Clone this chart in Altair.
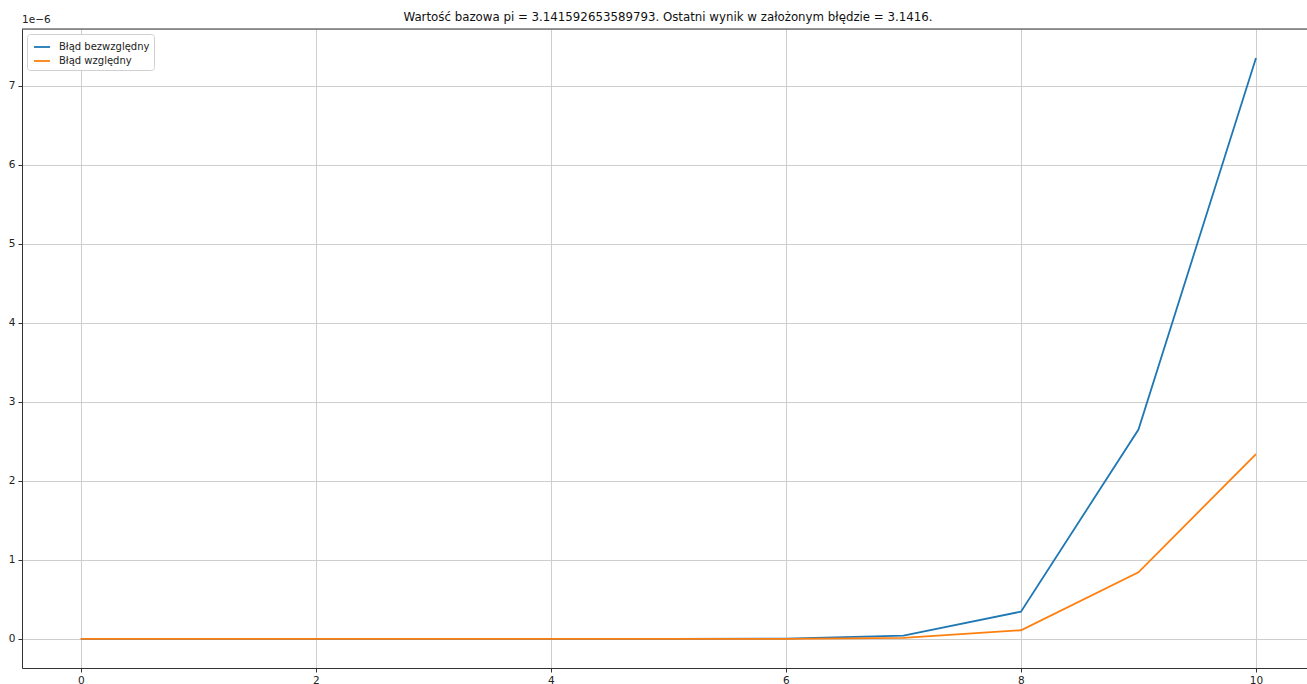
import altair as alt
import pandas as pd

# values (units of 1e-6)
iterations = [0, 1, 2, 3, 4, 5, 6, 7, 8, 9, 10]
abs_err = [0.0, 0.0, 0.0, 0.0, 0.0, 0.0005, 0.005, 0.042, 0.345, 2.65, 7.35]
rel_err = [0.0, 0.0, 0.0, 0.0, 0.0, 0.0002, 0.0016, 0.013, 0.11, 0.843, 2.34]
series_names = ["Błąd bezwzględny", "Błąd względny"]
series_colors = ["#1f77b4", "#ff7f0e"]
x_ticks = [0, 2, 4, 6, 8, 10]
y_ticks = [0, 1, 2, 3, 4, 5, 6, 7]
title_text = "Wartość bazowa pi = 3.141592653589793. Ostatni wynik w założonym błędzie = 3.1416."

rows = []
for name, vals in zip(series_names, [abs_err, rel_err]):
    for x, v in zip(iterations, vals):
        rows.append({"x": x, "y": v, "series": name})
df = pd.DataFrame(rows)

W, H = 1285, 639
FONT = "DejaVu Sans"

x_scale = alt.Scale(domain=[-0.5, 10.434], nice=False, zero=False)
y_scale = alt.Scale(domain=[-0.3675, 7.7175], nice=False, zero=False)

axis_style = dict(title=None, grid=True, gridColor="#c8c8c8", gridWidth=0.9,
                  domainColor="#333333", tickColor="#333333", tickSize=4,
                  labelFontSize=10.5, labelColor="#222222", labelFont=FONT,
                  labelPadding=3, format="d")

lines = alt.Chart(df).mark_line(strokeWidth=1.8, clip=True).encode(
    x=alt.X("x:Q", scale=x_scale, axis=alt.Axis(values=x_ticks, **axis_style)),
    y=alt.Y("y:Q", scale=y_scale, axis=alt.Axis(values=y_ticks, **axis_style)),
    color=alt.Color("series:N",
                    scale=alt.Scale(domain=series_names, range=series_colors),
                    sort=series_names,
                    legend=alt.Legend(title=None, orient="none", legendX=5, legendY=5,
                                      symbolType="stroke", symbolStrokeWidth=1.8,
                                      symbolSize=260, symbolOffset=2, labelOffset=8,
                                      labelFont=FONT, labelFontSize=10,
                                      labelColor="#222222", padding=4, rowPadding=0,
                                      strokeColor="#d0d0d0", fillColor="white",
                                      cornerRadius=3)),
)

top_spine = alt.Chart(pd.DataFrame({"a": [0]})).mark_rule(color="#333333", strokeWidth=1).encode(
    x=alt.value(0), x2=alt.value(W), y=alt.value(0)
)

offset_label = alt.Chart(pd.DataFrame({"t": ["1e−6"]})).mark_text(
    align="left", baseline="bottom", font=FONT, fontSize=10.5, color="#222222"
).encode(x=alt.value(0), y=alt.value(-4), text="t:N")

title_mark = alt.Chart(pd.DataFrame({"t": [title_text]})).mark_text(
    align="center", baseline="bottom", font=FONT, fontSize=11.8, color="#111111"
).encode(x=alt.value(646), y=alt.value(-6), text="t:N")

chart = alt.layer(lines, top_spine, offset_label, title_mark).properties(
    width=W, height=H,
    autosize=alt.AutoSizeParams(type="none"),
    padding={"left": 22, "top": 29, "right": 0, "bottom": 16},
).configure_view(stroke=None).configure(background="white")

chart.save("out.html", embed_options={"renderer": "svg", "actions": False})
